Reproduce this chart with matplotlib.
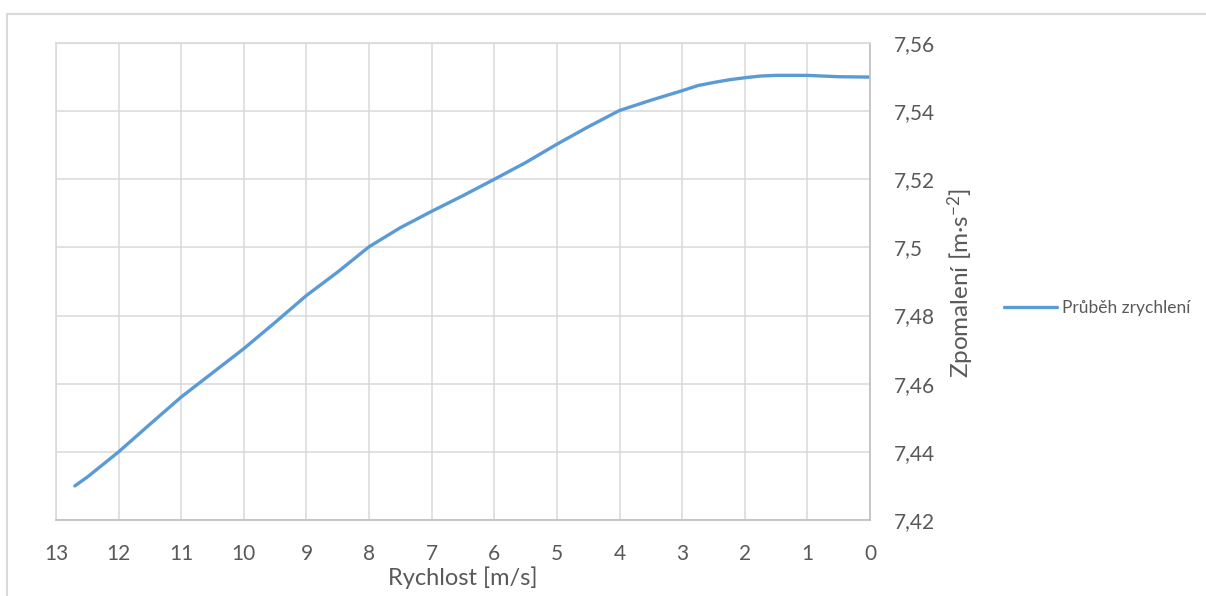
import matplotlib
matplotlib.use("Agg")
import matplotlib.pyplot as plt
import matplotlib.patches
from matplotlib.ticker import FuncFormatter, MultipleLocator

# values
rychlost = [12.7, 12.5, 12, 11.5, 11, 10.5, 10, 9.5, 9, 8.5, 8, 7.5, 7, 6.5, 6,
            5.5, 5, 4.5, 4, 3.5, 3, 2.75, 2.5, 2.25, 2, 1.75, 1.5, 1, 0.5, 0]
zpomaleni = [7.430, 7.4326, 7.440, 7.4481, 7.4561, 7.4632, 7.4703, 7.478, 7.4859,
             7.4928, 7.5002, 7.5058, 7.5106, 7.5152, 7.5200, 7.5249, 7.5303,
             7.5354, 7.5402, 7.5432, 7.5460, 7.5475, 7.5484, 7.5492, 7.5498,
             7.5503, 7.5505, 7.5505, 7.5501, 7.5500]
series_name = "Průběh zrychlení"
x_label = "Rychlost [m/s]"
y_label = "Zpomalení [m·s$^{-2}$]"

plt.rcParams['font.family'] = ['Lato', 'DejaVu Sans']
plt.rcParams['mathtext.default'] = 'regular'

text_col = '#595959'
grid_col = '#d9d9d9'

fig = plt.figure(figsize=(12.06, 5.96), dpi=100)
W, H = 1206, 596

# outer chart frame (runs off the right and bottom edges)
fig.patches.append(matplotlib.patches.Rectangle(
    (7 / W, -0.1), 1.2, (H - 14) / H + 0.1, transform=fig.transFigure,
    fill=False, edgecolor=grid_col, linewidth=1.5))

ax = fig.add_axes([56 / W, (H - 520) / H, 814 / W, 477 / H])
ax.plot(rychlost, zpomaleni, color='#5b9bd5', linewidth=2.4,
        solid_capstyle='round', solid_joinstyle='round', label=series_name)

ax.set_xlim(13, 0)
ax.set_ylim(7.42, 7.56)
ax.xaxis.set_major_locator(MultipleLocator(1))
ax.yaxis.set_major_locator(MultipleLocator(0.02))
ax.yaxis.tick_right()
ax.yaxis.set_major_formatter(FuncFormatter(lambda v, p: f"{round(v, 2):g}".replace('.', ',')))
ax.tick_params(length=0, labelsize=15, colors=text_col)
ax.tick_params(axis='x', pad=17)
ax.tick_params(axis='y', pad=17)
for lbl in ax.get_yticklabels():
    lbl.set_horizontalalignment('left')

ax.grid(True, color=grid_col, linewidth=1.1)
ax.set_axisbelow(True)
for side, sp in ax.spines.items():
    sp.set_color('#bfbfbf' if side in ('bottom', 'right') else grid_col)
    sp.set_linewidth(1.2)

ax.set_xlabel(x_label, fontsize=17, color=text_col)
ax.xaxis.set_label_coords(0.5, -0.097)
ax.yaxis.set_label_position('right')
ax.set_ylabel(y_label, fontsize=17.5, color=text_col)
ax.yaxis.set_label_coords(1.093, 0.497)

ax.legend(loc='center left', bbox_to_anchor=(1004 / W, (H - 308) / H),
          bbox_transform=fig.transFigure, frameon=False, fontsize=12.5,
          labelcolor=text_col, handlelength=3.05, handletextpad=0.3,
          borderpad=0, borderaxespad=0)

fig.savefig('out.png', dpi=100)
